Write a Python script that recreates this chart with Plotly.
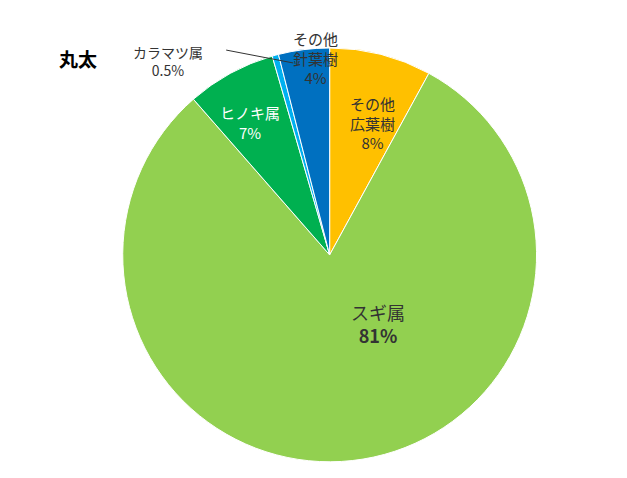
import plotly.graph_objects as go

labels = ["その他広葉樹", "スギ属", "ヒノキ属", "カラマツ属", "その他針葉樹"]
values = [8, 81, 7, 0.5, 4]
colors = ["#FFC000", "#92D050", "#00B050", "#00B0F0", "#0070C0"]

fig = go.Figure(go.Pie(
    labels=labels, values=values, sort=False, direction="clockwise", rotation=0,
    marker=dict(colors=colors, line=dict(color="white", width=1)),
    textinfo="none", hoverinfo="label+percent",
    domain=dict(x=[0.183, 0.843], y=[0.05, 0.917]),
))

f = "Noto Sans CJK JP"
ann = [
    dict(x=0.112, y=0.895, text="<b>丸太</b>", size=19, color="#000"),
    dict(x=0.582, y=0.76, text="その他<br>広葉樹<br>8%", size=15, color="#333"),
    dict(x=0.59, y=0.34, text="スギ属<br><b>81%</b>", size=18, color="#333"),
    dict(x=0.386, y=0.76, text="ヒノキ属<br>7%", size=15, color="#fff"),
    dict(x=0.49, y=0.895, text="その他<br>針葉樹<br>4%", size=15, color="#333"),
    dict(x=0.255, y=0.89, text="カラマツ属<br>0.5%", size=14, color="#333"),
]
annotations = [dict(x=a["x"], y=a["y"], xref="paper", yref="paper", text=a["text"],
                    xanchor="center", yanchor="middle",
                    showarrow=False, font=dict(family=f, size=a["size"], color=a["color"]))
               for a in ann]
fig.add_shape(type="line", xref="paper", yref="paper", x0=0.348, y0=0.912, x1=0.455, y1=0.885,
              line=dict(color="#333", width=1))
fig.update_layout(width=627, height=478, margin=dict(l=0, r=0, t=0, b=0),
                  showlegend=False, paper_bgcolor="white", annotations=annotations,
                  font=dict(family=f))
fig.write_html("out.html")
